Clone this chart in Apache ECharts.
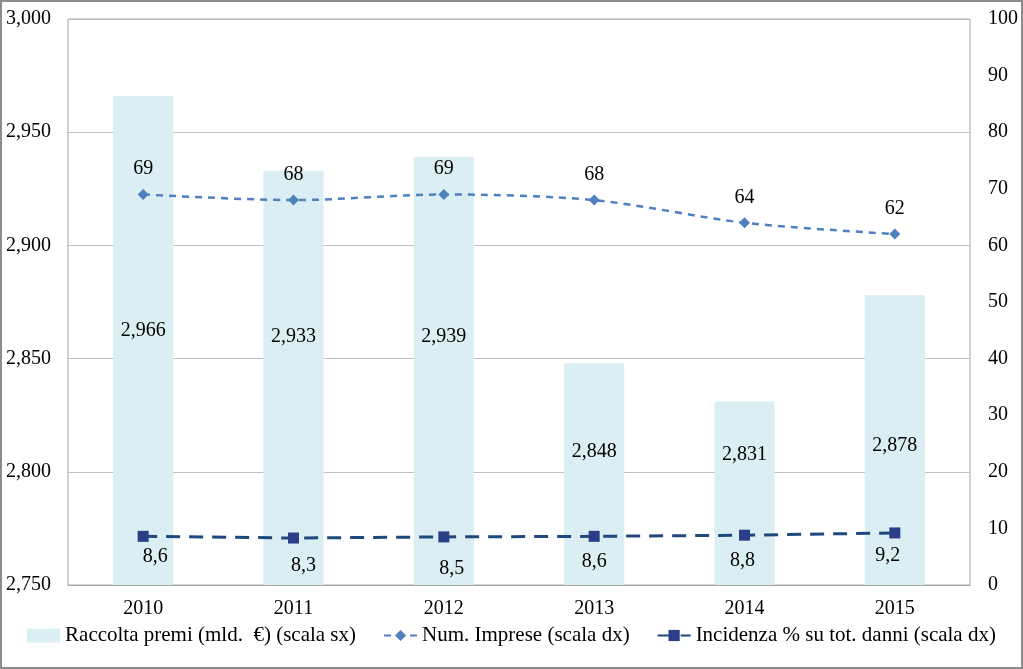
<!DOCTYPE html>
<html><head><meta charset="utf-8">
<script src="https://cdn.jsdelivr.net/npm/echarts@6/dist/echarts.min.js"></script>
<style>
html,body{margin:0;padding:0;background:#fff;}
#c{width:1023px;height:669px;box-sizing:border-box;border:2px solid #8c8c8c;}
</style></head>
<body><div id="c"></div>
<script>
var categories = ['2010','2011','2012','2013','2014','2015'];
var premi = [2966, 2933, 2939, 2848, 2831, 2878];
var imprese = [69, 68, 69, 68, 64, 62];
var incidenza = [8.6, 8.3, 8.5, 8.6, 8.8, 9.2];
var leftTicks = {min: 2750, max: 3000, interval: 50};
var rightTicks = {min: 0, max: 100, interval: 10};

// label placement styles (not data)
var barLabelY = ['48%', '40%', '42%', '40%', '29%', '52%'];
var incLabelOffset = [[12,-2],[10,5],[8,9],[0,3],[-2,3],[-7,0]];

var FONT = 'Liberation Serif';
var FS = 20;
var chart = echarts.init(document.getElementById('c'), null, {renderer:'canvas'});
function fmtThousands(v){ return String(v).replace(/\B(?=(\d{3})+(?!\d))/g, ','); }

chart.setOption({
  animation:false,
  textStyle:{fontFamily:FONT, color:'#000'},
  grid:{left:66, right:50, top:17, bottom:82, show:true, borderColor:'#a6a6a6', borderWidth:1},
  legend:{
    bottom:16, left:'center', itemGap:27, itemWidth:33, itemHeight:14,
    textStyle:{fontFamily:FONT, fontSize:21, color:'#000'},
    data:[
      {name:'Raccolta premi (mld.  €) (scala sx)', icon:'rect'},
      {name:'Num. Imprese (scala dx)'},
      {name:'Incidenza % su tot. danni (scala dx)'}
    ]
  },
  xAxis:{
    type:'category', data:categories,
    axisLine:{show:true, lineStyle:{color:'#a6a6a6'}}, axisTick:{show:false},
    axisLabel:{fontFamily:FONT, fontSize:FS, color:'#000', margin:14}
  },
  yAxis:[
    {type:'value', min:leftTicks.min, max:leftTicks.max, interval:leftTicks.interval,
     axisLine:{show:false}, axisTick:{show:false},
     splitLine:{show:true, lineStyle:{color:'#c0c0c0', width:1}},
     axisLabel:{fontFamily:FONT, fontSize:FS, color:'#000', margin:17, formatter:fmtThousands}},
    {type:'value', min:rightTicks.min, max:rightTicks.max, interval:rightTicks.interval,
     axisLine:{show:false}, axisTick:{show:false}, splitLine:{show:false},
     axisLabel:{fontFamily:FONT, fontSize:FS, color:'#000', margin:18, align:'left'}}
  ],
  series:[
    {name:'Raccolta premi (mld.  €) (scala sx)', type:'bar', yAxisIndex:0, barWidth:'40%',
     itemStyle:{color:'#dbeef3'},
     data: premi.map(function(v,i){ return {value:v, label:{show:true, position:['50%', barLabelY[i]], align:'center', verticalAlign:'middle'}}; }),
     label:{fontFamily:FONT, fontSize:FS, color:'#000', formatter:function(p){return fmtThousands(p.value);}}
    },
    {name:'Num. Imprese (scala dx)', type:'line', yAxisIndex:1, data:imprese,
     symbol:'diamond', symbolSize:11, smooth:0.3,
     lineStyle:{color:'#4f81bd', width:2.5, type:[7,6]},
     itemStyle:{color:'#4f81bd'},
     label:{show:true, position:'top', distance:10, fontFamily:FONT, fontSize:FS, color:'#000'}
    },
    {name:'Incidenza % su tot. danni (scala dx)', type:'line', yAxisIndex:1,
     symbol:'rect', symbolSize:11,
     lineStyle:{color:'#1f497d', width:3, type:[14,9]},
     itemStyle:{color:'#2a3f88'},
     data: incidenza.map(function(v,i){ return {value:v, label:{offset:incLabelOffset[i]}}; }),
     label:{show:true, position:'bottom', distance:7, fontFamily:FONT, fontSize:FS, color:'#000',
       formatter:function(p){return String(p.value).replace('.', ',');}}
    }
  ]
});
</script></body></html>
